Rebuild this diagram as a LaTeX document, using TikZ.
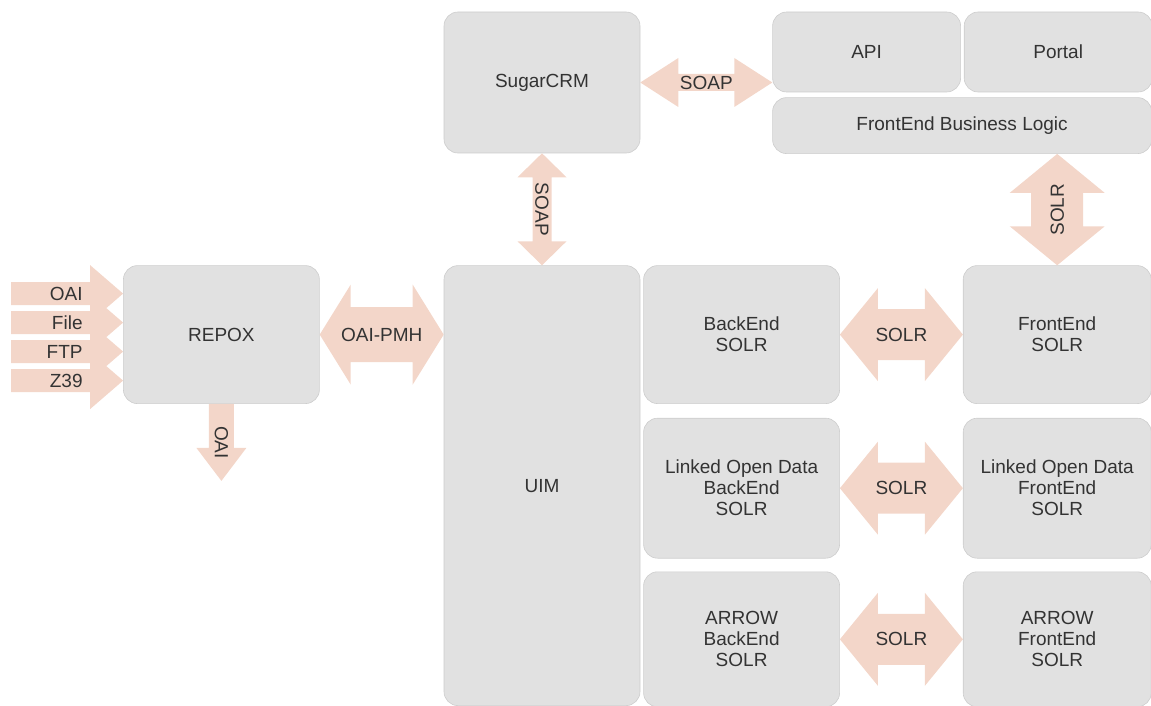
\documentclass[tikz,border=0pt]{standalone}
\usepackage{fontspec}
\setmainfont{Liberation Sans}
\usetikzlibrary{positioning,calc}

\definecolor{boxgray}{RGB}{225,225,225}
\definecolor{boxline}{RGB}{205,205,205}
\definecolor{arrowpink}{RGB}{243,214,201}
\definecolor{textgray}{RGB}{51,51,51}

\begin{document}
\begin{tikzpicture}
[font=\fontsize{19}{21}\selectfont,
% STYLES
% The box style is used for every system block
box/.style={rectangle, rounded corners=14pt, draw=boxline, line width=0.6pt, fill=boxgray, text=textgray, align=center, inner sep=0pt},
widebox/.style={box, minimum width=196pt},
narrowbox/.style={box, minimum width=188pt},
% The lbl style is used for the protocol names on the fat arrows
lbl/.style={text=textgray, inner sep=0pt, midway},
% fat arrows drawn as a to path between two points
fat shaft/.store in=\fatshaft,
fat head/.store in=\fathead,
fat len/.store in=\fatlen,
fat double/.style={fill=arrowpink, to path={
  (\tikztostart)
  -- ($(\tikztostart)!\fatlen!(\tikztotarget)!\fathead!90:(\tikztotarget)$)
  -- ($(\tikztostart)!\fatlen!(\tikztotarget)!\fatshaft!90:(\tikztotarget)$)
  -- ($(\tikztotarget)!\fatlen!(\tikztostart)!\fatshaft!-90:(\tikztostart)$)
  -- ($(\tikztotarget)!\fatlen!(\tikztostart)!\fathead!-90:(\tikztostart)$)
  -- (\tikztotarget)
  -- ($(\tikztotarget)!\fatlen!(\tikztostart)!\fathead!90:(\tikztostart)$)
  -- ($(\tikztotarget)!\fatlen!(\tikztostart)!\fatshaft!90:(\tikztostart)$)
  -- ($(\tikztostart)!\fatlen!(\tikztotarget)!\fatshaft!-90:(\tikztotarget)$)
  -- ($(\tikztostart)!\fatlen!(\tikztotarget)!\fathead!-90:(\tikztotarget)$)
  -- cycle
  (\tikztostart) -- (\tikztotarget) \tikztonodes}},
fat single/.style={fill=arrowpink, to path={
  ($(\tikztostart)!\fatshaft!90:(\tikztotarget)$)
  -- ($(\tikztotarget)!\fatlen!(\tikztostart)!\fatshaft!-90:(\tikztostart)$)
  -- ($(\tikztotarget)!\fatlen!(\tikztostart)!\fathead!-90:(\tikztostart)$)
  -- (\tikztotarget)
  -- ($(\tikztotarget)!\fatlen!(\tikztostart)!\fathead!90:(\tikztostart)$)
  -- ($(\tikztotarget)!\fatlen!(\tikztostart)!\fatshaft!90:(\tikztostart)$)
  -- ($(\tikztostart)!\fatshaft!-90:(\tikztotarget)$)
  -- cycle
  (\tikztostart) -- (\tikztotarget) \tikztonodes}}]

\useasboundingbox (0,0) rectangle (1151pt,-706pt);

% Draw blocks
\node [widebox, minimum height=141pt] (sugar) at (542pt,-82.5pt) {SugarCRM};
\node [widebox, minimum height=440pt, below=112pt of sugar] (uim) {UIM};
\node [widebox, minimum height=138pt, anchor=north east] (repox) at ($(uim.north west)+(-124pt,0)$) {REPOX};
\node [narrowbox, minimum height=80pt, anchor=north west] (api) at ($(sugar.north east)+(132pt,0)$) {API};
\node [narrowbox, minimum height=80pt, right=3pt of api] (portal) {Portal};
\node [box, minimum width=379pt, minimum height=56pt, below=5pt of api.south west, anchor=north west] (logic) {FrontEnd Business Logic};

% back end and front end indexes
\node [widebox, minimum height=138pt, right=3pt of uim.north east, anchor=north west] (backend) {BackEnd\\SOLR};
\node [widebox, minimum height=140pt, below=14pt of backend] (lodback) {Linked Open Data\\BackEnd\\SOLR};
\node [widebox, minimum height=135pt, below=13pt of lodback] (arrowback) {ARROW\\BackEnd\\SOLR};
\node [narrowbox, minimum height=138pt, right=123pt of backend] (frontend) {FrontEnd\\SOLR};
\node [narrowbox, minimum height=140pt, right=123pt of lodback] (lodfront) {Linked Open Data\\FrontEnd\\SOLR};
\node [narrowbox, minimum height=135pt, right=123pt of arrowback] (arrowfront) {ARROW\\FrontEnd\\SOLR};

% Draw the links between blocks
\path [fat double, fat shaft=8.5pt, fat head=24.5pt, fat len=38pt]
  (sugar.east) to node [lbl] {SOAP} (sugar.east -| api.west);
\path [fat double, fat shaft=9.5pt, fat head=24.5pt, fat len=24pt]
  (sugar.south) to node [lbl, rotate=-90] {SOAP} (sugar.south |- uim.north);
\path [fat double, fat shaft=26pt, fat head=47.5pt, fat len=39pt]
  (frontend.north |- logic.south) to node [lbl, rotate=90] {SOLR} (frontend.north);
\path [fat double, fat shaft=27.5pt, fat head=50pt, fat len=31pt]
  (repox.east) to node [lbl] {OAI-PMH} (repox.east -| uim.west);
\foreach \back/\front in {backend/frontend, lodback/lodfront, arrowback/arrowfront}
  \path [fat double, fat shaft=25.5pt, fat head=46.5pt, fat len=38pt]
    (\back.east) to node [lbl] {SOLR} (\front.west);

% harvesting inputs and output
\foreach \src [count=\i from 0] in {OAI,File,FTP,Z39}{
  \coordinate (tip\i) at ($(repox.west)+(0,41pt-29pt*\i)$);
  \coordinate (in\i) at ($(tip\i)+(-112pt,0)$);
  \path [fat single, fat shaft=11.5pt, fat head=28.5pt, fat len=33pt]
    (in\i) to node [lbl, pos=0.64, anchor=east] {\src} (tip\i);
}
\coordinate [below=77pt of repox.south] (oaiout);
\path [fat single, fat shaft=12.5pt, fat head=25pt, fat len=33pt]
  (repox.south) to node [lbl, rotate=-90] {OAI} (oaiout);

\end{tikzpicture}
\end{document}
